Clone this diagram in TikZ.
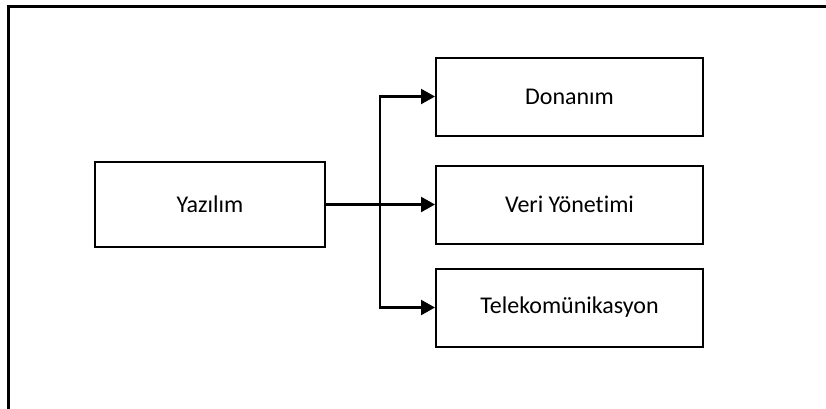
\documentclass[tikz,border=0pt]{standalone}
\usepackage{fontspec}
\setmainfont[Ligatures={NoCommon}]{Carlito}
\usetikzlibrary{arrows.meta}
\begin{document}
\begin{tikzpicture}[x=1pt,y=-1pt,
  box/.style={draw=black,line width=2pt,minimum width=267pt,minimum height=78pt,inner sep=0pt,font=\fontsize{24}{28}\selectfont},
  lbox/.style={draw=black,line width=2pt,minimum width=230pt,minimum height=85pt,inner sep=0pt,font=\fontsize{24}{28}\selectfont},
  arr/.style={line width=2.2pt,-{Triangle[length=14pt,width=15pt]}},
  frame/.style={line width=2.5pt}]
\useasboundingbox (0,0) rectangle (826,408);
\draw[frame] (8.5,420) -- (8.5,6.5) -- (840,6.5);
\node[lbox] (yaz) at (210,204.5) {Yazılım};
\node[box] (don) at (569.5,96.5) {Donanım};
\node[box] (veri) at (569.5,204.5) {Veri Yönetimi};
\node[box] (tel) at (569.5,307.5) {Telekomünikasyon};
\coordinate (j) at (380,204.5);
\draw[line width=3pt] (yaz.east) -- (j);
\draw[arr] (j) -- (veri.west);
\draw[arr] (j) |- (don.west);
\draw[arr] (j) |- (tel.west);
\end{tikzpicture}
\end{document}
